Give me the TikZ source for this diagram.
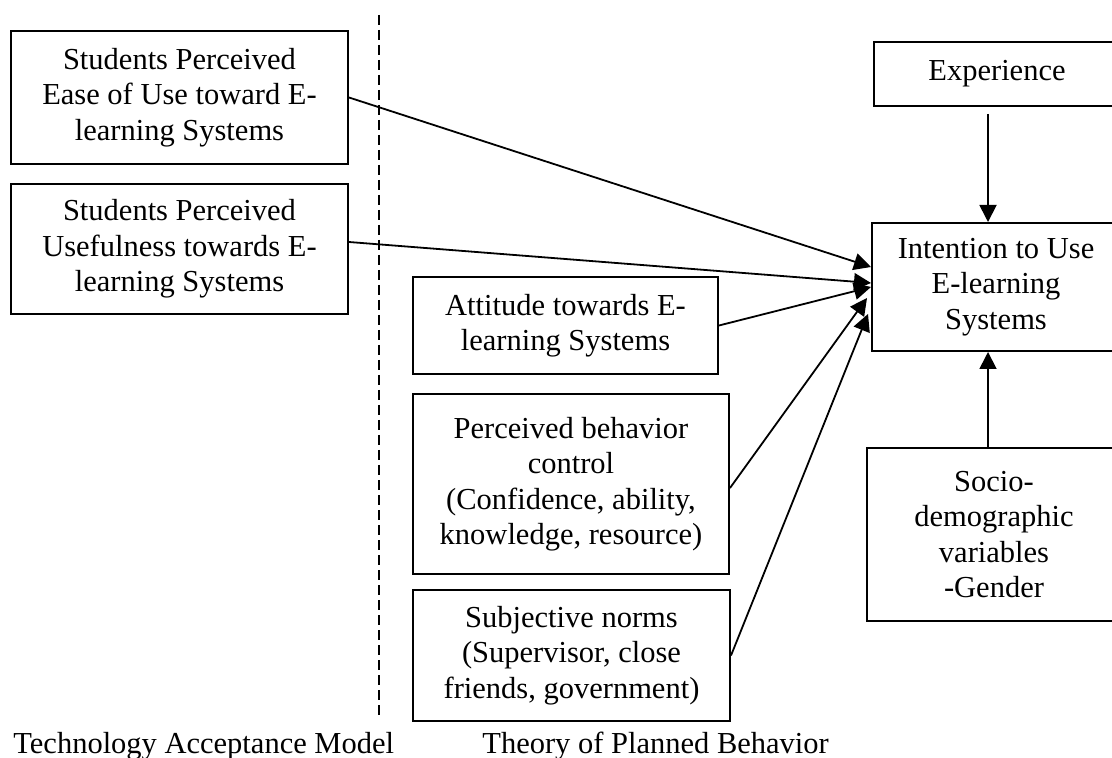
\documentclass[tikz,border=0pt]{standalone}
\usepackage{fontspec}
\setmainfont{Liberation Serif}
\usepackage{tikz}
\usetikzlibrary{arrows.meta,calc}

\newcommand{\boxfont}{\fontsize{15.25}{17.75}\selectfont}

\begin{document}
\begin{tikzpicture}[x=0.5pt, y=-0.5pt,
        box/.style={draw, line width=1pt, align=center, inner sep=0pt, font=\boxfont},
        arr/.style={line width=0.9pt, -{Triangle[length=8.5pt, width=8.5pt]}},
        divider/.style={line width=0.8pt, dash pattern=on 5pt off 2.5pt},
        caption/.style={anchor=base west, inner sep=0pt, font=\boxfont}]
    \useasboundingbox (0,0) rectangle (1112,758);

    % Technology Acceptance Model side
    \node[box, minimum width=168.5pt, minimum height=66.5pt] (ease) at (179.5,97.5)
        {Students Perceived\\Ease of Use toward E-\\learning Systems};
    \node[box, minimum width=168.5pt, minimum height=65pt] (useful) at (179.5,249)
        {Students Perceived\\Usefulness towards E-\\learning Systems};

    % divider between the two models
    \coordinate (divtop) at (379,15);
    \coordinate (divbot) at (379,717);
    \draw[divider] (divtop) -- (divbot);

    % Theory of Planned Behavior side
    \node[box, minimum width=152.5pt, minimum height=48.5pt] (attitude) at (565.5,325.5)
        {Attitude towards E-\\learning Systems};
    \node[box, minimum width=158pt, minimum height=90pt] (pbc) at (571,484)
        {Perceived behavior\\control\\(Confidence, ability,\\knowledge, resource)};
    \node[box, minimum width=158.5pt, minimum height=65.5pt] (norms) at (571.5,655.5)
        {Subjective norms\\(Supervisor, close\\friends, government)};

    % outcome and moderators
    \node[box, minimum width=123pt, minimum height=32pt] (exp) at (997,74) {Experience};
    \node[box, minimum width=124pt, minimum height=64pt] (intent) at (996,287)
        {Intention to Use\\E-learning\\Systems};
    \node[box, minimum width=127pt, minimum height=86.5pt] (socio) at (994,534.5)
        {Socio-\\demographic\\variables\\-Gender};

    % connectors
    \draw[arr] (ease.east) -- ($(intent.west)+(0,-20)$);
    \draw[arr] ($(useful.east)+(0,-7)$) -- ($(intent.west)+(0,-4)$);
    \draw[arr] (attitude.east) -- (intent.west);
    \draw[arr] ($(pbc.east)+(0,4)$) -- ($(intent.west)+(-4,11)$);
    \draw[arr] (norms.east) -- ($(intent.west)+(-3,27)$);
    \draw[arr] ($(exp.south)+(-9,7)$) -- ($(intent.north)+(-8,0)$);
    \draw[arr] ($(socio.north)+(-6,0)$) -- ($(intent.south)+(-8,0)$);

    % model captions
    \node[caption] (tam) at (13,753) {Technology Acceptance Model};
    \node[caption] (tpb) at (482,753) {Theory of Planned Behavior};
\end{tikzpicture}
\end{document}
